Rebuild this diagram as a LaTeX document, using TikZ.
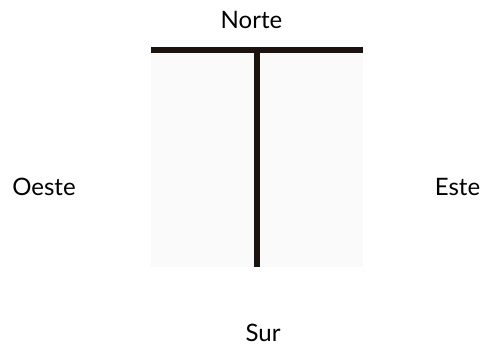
\documentclass[tikz,border=0pt]{standalone}
\usepackage{fontspec}
\setmainfont{Lato}
\definecolor{bar}{HTML}{1C120E}
\definecolor{pane}{HTML}{FAFAFA}
\tikzset{lbl/.style={anchor=base,inner sep=0pt,text depth=0pt,font=\fontsize{24}{28}\selectfont},
  barline/.style={draw=bar,line width=6pt}}
\begin{document}
\begin{tikzpicture}[x=1pt,y=1pt]
\useasboundingbox (0,0) rectangle (483,346);
\fill[pane] (151,79) rectangle (363,293);
\coordinate (hl) at (151,296);
\coordinate (hr) at (363,296);
\coordinate (vt) at (257,296);
\coordinate (vb) at (257,79);
\draw[barline] (hl) -- (hr);
\draw[barline] (vt) -- (vb);
\node[lbl] (n) at (251.5,317) {Norte};
\node[lbl] (s) at (263,4) {Sur};
\node[lbl] (o) at (44,150) {Oeste};
\node[lbl] (e) at (457.5,150) {Este};
\end{tikzpicture}
\end{document}
